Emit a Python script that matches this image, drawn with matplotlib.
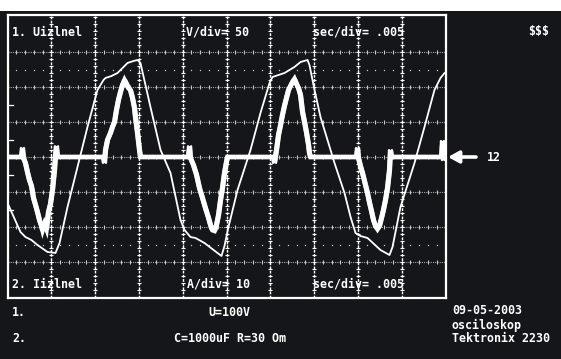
import matplotlib
matplotlib.use("Agg")
import matplotlib.pyplot as plt
import numpy as np

# Screen capture of a Tektronix 2230 scope: rectifier with capacitor load
W, H = 561, 359
BG = "#151619"

SEC_PER_DIV_MS = 5.0     # sec/div = .005
V_PER_DIV = 50.0         # channel 1
A_PER_DIV = 10.0         # channel 2

# channel 1: voltage (ms, V)
t_u = [0.0, 1.48, 2.05, 2.74, 3.42, 4.57, 5.48, 5.94, 6.85, 7.99, 9.13, 10.27,
       10.96, 11.19, 11.87, 12.56, 13.70, 14.38, 14.84, 15.18, 16.32, 17.47,
       18.61, 19.75, 20.21, 20.89, 21.46, 22.49, 23.97, 24.43, 24.77, 25.20,
       26.26, 27.74, 28.88, 29.91, 30.25, 31.62, 32.76, 33.45, 34.25, 34.47,
       35.05, 35.73, 36.53, 37.33, 38.47, 39.16, 39.73, 40.30, 41.10, 42.58,
       43.61, 43.95, 44.86, 46.46, 47.60, 48.74, 49.43, 49.89]
u = [-65.7, -107.1, -114.3, -118.6, -125.7, -135.7, -137.1, -122.9, -71.4,
     -14.3, 42.9, 95.7, 110.0, 112.9, 115.7, 120.0, 134.3, 137.1, 138.6, 134.3,
     71.4, 10.0, -22.9, -90.0, -104.3, -114.3, -115.7, -122.9, -137.1, -141.4,
     -127.1, -101.4, -47.1, 10.0, 62.9, 105.7, 114.3, 120.0, 128.6, 135.7,
     138.6, 131.4, 95.7, 57.1, 24.3, -8.6, -51.4, -85.7, -108.6, -112.9,
     -115.7, -132.9, -140.0, -128.6, -71.4, -8.6, 42.9, 95.7, 112.9, 120.0]

# channel 2: current (ms, A)
t_i = [0.0, 1.60, 1.71, 1.83, 2.05, 2.28, 2.51, 2.74, 2.97, 3.20, 3.42, 3.65,
       3.88, 4.00, 4.22, 4.45, 4.68, 4.91, 5.14, 5.37, 5.48, 5.59, 5.71,
       10.96, 11.07, 11.19, 11.42, 11.76, 11.99, 12.22, 12.44, 12.67, 12.90,
       13.13, 13.36, 13.59, 13.81, 14.04, 14.27, 14.50, 14.61, 14.84, 15.07, 15.18,
       20.66, 20.78, 20.89, 21.23, 21.58, 21.92, 22.26, 22.60, 22.95, 23.17,
       23.40, 23.63, 23.86, 24.09, 24.32, 24.54, 24.77, 25.00, 25.11,
       30.37, 30.48, 30.71, 30.94, 31.17, 31.39, 31.62, 31.85, 32.08, 32.31,
       32.53, 32.76, 32.99, 33.22, 33.45, 33.68, 33.91, 34.14, 34.37, 34.47, 34.59,
       39.84, 39.96, 40.07, 40.30, 40.53, 40.87, 41.10, 41.33, 41.55, 41.78,
       42.01, 42.24, 42.47, 42.70, 42.92, 43.15, 43.38, 43.61, 43.72, 43.84,
       49.55, 49.66, 49.77, 49.89]
i_a = [0.0, 0.0, 2.6, -0.3, -1.7, -4.3, -6.6, -8.3, -11.7, -13.7, -15.7, -18.0,
       -19.7, -20.9, -19.1, -20.6, -15.7, -13.4, -9.4, -3.7, 0.6, 3.1, 0.0,
       0.0, -1.7, 2.0, 4.9, 6.9, 8.6, 10.0, 13.4, 16.3, 18.6,
       20.6, 22.0, 20.9, 19.7, 19.1, 16.9, 14.0, 11.4, 6.9, 2.0, 0.0,
       0.0, 3.1, -0.3, -2.3, -5.1, -8.9, -11.7, -14.6, -17.4, -19.4,
       -20.9, -21.1, -19.4, -16.6, -12.3, -8.9, -4.6, -1.4, 0.0,
       0.0, -1.7, 2.0, 6.3, 9.1, 12.0, 14.6, 16.9, 19.1, 20.3,
       21.4, 22.3, 20.9, 19.7, 17.7, 12.9, 10.0, 6.9, 3.4, 1.1, 0.0,
       0.0, 2.6, -0.3, -2.6, -4.6, -8.0, -10.3, -13.1, -15.4, -18.0,
       -19.7, -20.6, -19.7, -17.4, -15.1, -12.3, -8.9, -3.7, 2.0, 0.0,
       0.0, 4.6, -0.9, 0.0]

header_top = ["1. Uizlnel", "V/div= 50", "sec/div= .005"]
header_bot = ["2. Iizlnel", "A/div= 10", "sec/div= .005"]
footer_1 = ["1.", "U=100V"]
footer_2 = ["2.", "C=1000uF R=30 Om"]
info_lines = ["09-05-2003", "osciloskop", "Tektronix 2230"]
marker_label = "12"


def fx(px):
    return px / W


def fy(py):
    return 1 - py / H


plt.rcParams["font.family"] = ["DejaVu Sans Mono"]
fig = plt.figure(figsize=(W / 100, H / 100), dpi=100, facecolor=BG)

# white strip along the top edge
fig.patches.append(plt.Rectangle((0, fy(11)), 1, 11 / H, transform=fig.transFigure,
                                 facecolor="white", edgecolor="none"))

# graticule box: 10 x 8 divisions
x0, x1, y0, y1 = 7.5, 445.5, 15, 298
ax = fig.add_axes([fx(x0), fy(y1), (x1 - x0) / W, (y1 - y0) / H])
ax.set_facecolor(BG)
ax.set_xlim(0, 10)
ax.set_ylim(-(y1 - 157) / 35, (157 - y0) / 35)
ax.set_xticks([])
ax.set_yticks([])
for sp in ax.spines.values():
    sp.set_color("white")
    sp.set_linewidth(1.6)

minor_x = np.arange(0, 10.001, 0.2)
minor_y = np.arange(-4, 4.001, 0.2)
for gy in range(-3, 4):
    ax.axhline(gy, color="#a8a8a8", lw=0.8, ls=(0, (1, 1)), zorder=1)
    ax.plot(minor_x, np.full_like(minor_x, gy), ls="none", marker="|",
            ms=3.5, mew=0.8, color="#c8c8c8", zorder=1)
for gx in range(1, 10):
    ax.axvline(gx, color="white", lw=1.0, ls=(0, (2, 1)), zorder=1)
    ax.plot(np.full_like(minor_y, gx), minor_y, ls="none", marker="_",
            ms=3, mew=0.8, color="white", zorder=1)
# 10 % / 90 % dot rows
for gy in (2.5, -2.5):
    ax.plot(minor_x, np.full_like(minor_x, gy), ls="none", marker="s",
            ms=0.9, mew=0, color="#c8c8c8", zorder=1)
# half-division marks on the left edge
for gy in (-1.5, -0.5, 0.5, 1.5):
    ax.plot([0, 0.13], [gy, gy], color="white", lw=0.9, zorder=1)

# traces
ax.plot(np.array(t_u) / SEC_PER_DIV_MS, np.array(u) / V_PER_DIV,
        color="white", lw=1.3, zorder=3, solid_joinstyle="round")
x_i = np.array(t_i) / SEC_PER_DIV_MS
y_i = np.array(i_a) / A_PER_DIV
ax.plot(x_i, y_i, color="white", lw=3.4, zorder=4, solid_joinstyle="miter")
# trace spread of the current channel (beam is thicker on the edges)
for dx in (-0.035, 0.035):
    ax.plot(x_i + dx, y_i, color="white", lw=1.6, zorder=4, alpha=0.85)

# labels inside the graticule
txt = dict(color="white", fontsize=8.4, fontweight="bold", va="center", ha="left")
for s, px in zip(header_top, (12, 186, 313)):
    fig.text(fx(px), fy(32), s, **txt)
for s, px in zip(header_bot, (12, 187, 313)):
    fig.text(fx(px), fy(284), s, **txt)
fig.text(fx(528), fy(32), "$$$", **txt)

# lines under the screen
fig.text(fx(12), fy(313), footer_1[0], **txt)
fig.text(fx(208), fy(313), footer_1[1], **txt)
fig.text(fx(12), fy(338), footer_2[0], **txt)
fig.text(fx(174), fy(338), footer_2[1], **txt)
for k, s in enumerate(info_lines):
    fig.text(fx(452), fy(311 + 14 * k), s, **txt)

# reference marker for channel 2 ground
fig.add_artist(matplotlib.patches.FancyArrowPatch(
    (fx(476), fy(157)), (fx(448), fy(157)), transform=fig.transFigure,
    arrowstyle="-|>,head_length=4,head_width=2.2", lw=2.6, color="white",
    mutation_scale=1.6, shrinkA=0, shrinkB=0))
fig.text(fx(487), fy(157), marker_label, **txt)

fig.savefig("out.png", dpi=100, facecolor=BG)
